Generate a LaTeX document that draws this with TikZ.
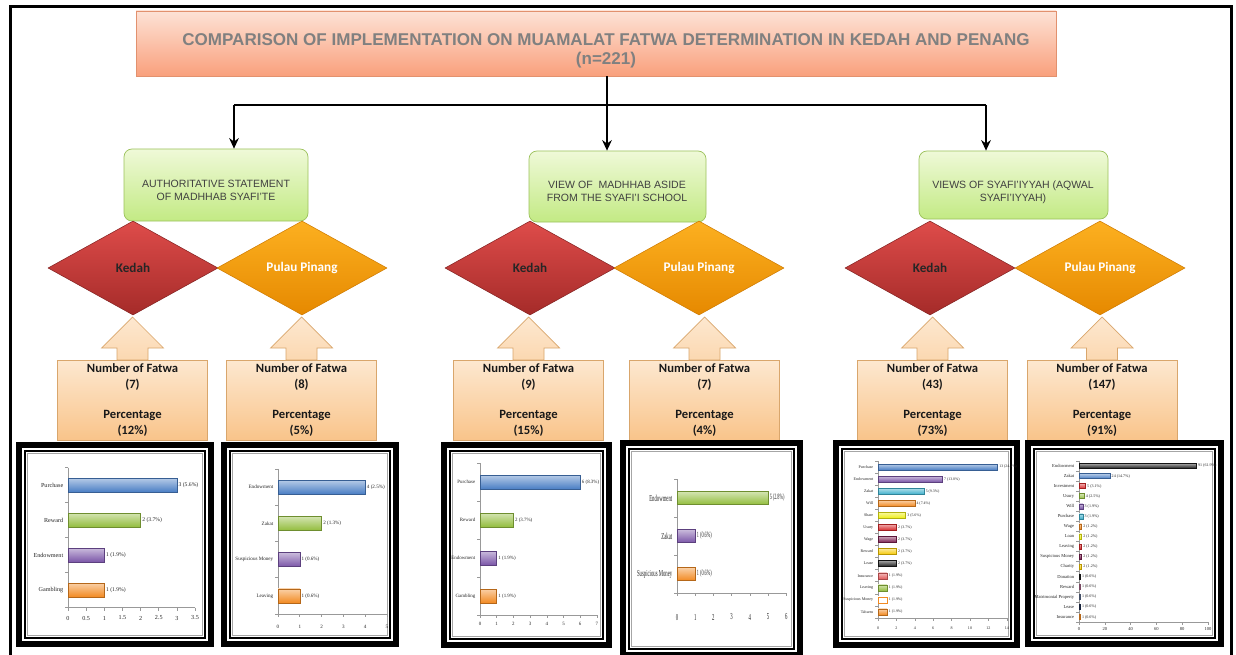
\documentclass[tikz,border=0pt]{standalone}
\usepackage{fontspec}
\usepackage{graphicx}
\setmainfont{Liberation Sans}
\newfontfamily\calibfont{Carlito}
\newfontfamily\chartfont{Liberation Serif}
\usetikzlibrary{shapes.geometric,arrows.meta,positioning}

\newdimen\px
\px=0.02cm

\definecolor{titletop}{HTML}{FDE2D6}
\definecolor{titlebot}{HTML}{F9A07C}
\definecolor{titleline}{HTML}{E2916E}
\definecolor{titleink}{HTML}{808080}
\definecolor{greentop}{HTML}{EFF9D8}
\definecolor{greenbot}{HTML}{C3EA84}
\definecolor{greenline}{HTML}{9CC25C}
\definecolor{kedtop}{HTML}{DE4C4A}
\definecolor{kedbot}{HTML}{A52B29}
\definecolor{pentop}{HTML}{FCB020}
\definecolor{penbot}{HTML}{E68900}
\definecolor{peachtop}{HTML}{FDE8D0}
\definecolor{peachbot}{HTML}{F9C48A}
\definecolor{peachline}{HTML}{D9A66C}
\definecolor{barblue}{HTML}{4A7EC4}
\definecolor{bargreen}{HTML}{93BD3E}
\definecolor{barpurple}{HTML}{7B56A8}
\definecolor{barorange}{HTML}{F28A22}
\definecolor{barcyan}{HTML}{3FB0CC}
\definecolor{baryellow}{HTML}{EEEE10}
\definecolor{barred}{HTML}{D8282A}
\definecolor{barmaroon}{HTML}{7A1D4E}
\definecolor{bargold}{HTML}{F5C800}
\definecolor{barblack}{HTML}{1A1A1A}
\definecolor{barnavy}{HTML}{1F2D4D}
\definecolor{barslate}{HTML}{5A6A8A}

\tikzset{
  titlebox/.style={draw=titleline, top color=titletop, bottom color=titlebot,
    minimum width=920\px, minimum height=65\px, inner sep=0pt},
  titletext/.style={align=center, text=titleink,
    font=\bfseries\fontsize{9.7}{10.8}\selectfont},
  viewbox/.style={draw=greenline, top color=greentop, bottom color=greenbot,
    rounded corners=8\px, inner sep=0pt},
  viewtext/.style={align=center, text=black!75, font=\fontsize{6}{7.4}\selectfont},
  kedah/.style={diamond, draw=kedbot!80!black, line width=0.3pt, top color=kedtop,
    bottom color=kedbot, minimum width=170\px, minimum height=94\px, inner sep=0pt,
    font=\calibfont\bfseries\fontsize{7.5}{9}\selectfont, text=black!85},
  penang/.style={diamond, draw=penbot!90!black, line width=0.3pt, top color=pentop,
    bottom color=penbot, minimum width=170\px, minimum height=94\px, inner sep=0pt,
    font=\calibfont\bfseries\fontsize{7.5}{9}\selectfont, text=white},
  countbox/.style={draw=peachline, top color=peachtop, bottom color=peachbot,
    minimum width=150\px, minimum height=80\px, inner sep=0pt, align=center,
    font=\calibfont\bfseries\fontsize{7.2}{9}\selectfont, text=black!90},
  upblock/.style={draw=peachline, top color=peachtop, bottom color=peachtop!55!peachbot},
  trunk/.style={line width=1.1pt},
  link/.style={line width=1.1pt, -{Stealth[length=6pt,width=5.5pt]}},
  axisline/.style={draw=black!40, line width=0.35pt},
  catlabel/.style={anchor=east, inner sep=0.8pt, font=\chartfont\catsize, text=black!85},
  vallabel/.style={anchor=west, inner sep=0.8pt, font=\chartfont\valsize, text=black!85},
  ticklabel/.style={inner sep=0pt, font=\chartfont\catsize, text=black!85},
}

% one bar: row, value, colour, category, value text
\newcommand{\fatwabar}[5]{%
  \pgfmathsetmacro\yy{\ytop+#1*\dy}%
  \shade[top color=#3!40!white, bottom color=#3, draw=#3!75!black, line width=0.25pt]
    (\xo,\yy-\bh/2) rectangle (\xo+#2*\un,\yy+\bh/2);
  \node[catlabel] (\cid-cat-#1) at (\xo-3,\yy) {\squeeze{#4}};
  \node[vallabel] (\cid-val-#1) at (\xo+#2*\un,\yy) {\squeeze{#5}};
}
% axes: rows, max, ticks, label y
\newcommand{\fatwaaxis}[4]{%
  \pgfmathsetmacro\ya{\ytop-\dy/2}%
  \pgfmathsetmacro\yb{\ytop+(#1-0.5)*\dy}%
  \draw[axisline] (\xo,\ya) -- (\xo,\yb) -- (\xo+#2*\un,\yb);
  \foreach \k in {0,...,#1} \draw[axisline] (\xo,\ya+\k*\dy) -- ++(-3,0);
  \foreach \t [count=\i] in {#3} {
    \draw[axisline] (\xo+\t*\un,\yb) -- ++(0,3);
    \node[ticklabel] (\cid-tick-\i) at (\xo+\t*\un,#4) {\squeeze{\t}};
  }
}
% black double frame round a chart
\newcommand{\chartframe}[4]{%
  \fill[black] (#1,#2) rectangle (#3,#4);
  \fill[white] (#1+6,#2+6) rectangle (#3-6,#4-6);
  \draw[black, line width=1.8\px] (#1+9,#2+9) rectangle (#3-9,#4-9);
  \draw[black!35, line width=1.4\px] (#1+11.5,#2+11.5) rectangle (#3-11.5,#4-11.5);
  \fill[white] (#1+12.5,#2+12.5) rectangle (#3-12.5,#4-12.5);
}
\def\squeeze#1{#1}

\begin{document}
\begin{tikzpicture}[x=0.02cm, y=-0.02cm]
  \useasboundingbox (0,0) rectangle (1236,655);
  \fill[white] (0,0) rectangle (1236,655);
  \draw[line width=3\px] (10,7) rectangle (1231,700);

  % title
  \node[titlebox] (title) at (596,43.5) {};
  \node[titletext] (titlelabel) at (606,51) {COMPARISON OF IMPLEMENTATION ON MUAMALAT FATWA DETERMINATION IN KEDAH AND PENANG\\(n=221)};

  % views
  \node[viewbox, minimum width=184\px, minimum height=72\px] (view1) at (216,185) {};
  \node[viewtext] (view1label) at (216,190) {AUTHORITATIVE STATEMENT\\OF MADHHAB SYAFI'TE};
  \node[viewbox, minimum width=177\px, minimum height=71\px] (view2) at (617.5,186.5) {};
  \node[viewtext] (view2label) at (617,191.5) {VIEW OF\ \ MADHHAB ASIDE\\FROM THE SYAFI'I SCHOOL};
  \node[viewbox, minimum width=189\px, minimum height=68\px] (view3) at (1013.5,185) {};
  \node[viewtext] (view3label) at (1013,192.5) {VIEWS OF SYAFI'IYYAH (AQWAL\\SYAFI'IYYAH)};

  % connectors
  \coordinate (hub) at (607,105);
  \coordinate (leftend) at (234,105);
  \coordinate (rightend) at (986,105);
  \draw[trunk] (title.south -| hub) -- (hub);
  \draw[trunk] (leftend) -- (rightend);
  \draw[link] (leftend) -- (leftend |- view1.north);
  \draw[link] (hub) -- (hub |- view2.north);
  \draw[link] (rightend) -- (rightend |- view3.north);

  % states
  \node[kedah] (ked1) at (133,268) {Kedah};
  \node[penang] (pen1) at (302,268) {Pulau Pinang};
  \node[kedah] (ked2) at (530,268) {Kedah};
  \node[penang] (pen2) at (699,268) {Pulau Pinang};
  \node[kedah] (ked3) at (930,268) {Kedah};
  \node[penang] (pen3) at (1100,268) {Pulau Pinang};

  % counts
  \foreach \n/\x/\num/\pct in {cnt1/132.5/7/12, cnt2/301.5/8/5, cnt3/528.5/9/15,
      cnt4/704.5/7/4, cnt5/932.5/43/73, cnt6/1102/147/91} {
    \path[upblock] (\x-15.5,360) -- (\x-15.5,348) -- (\x-31,348) -- (\x,317)
      -- (\x+31,348) -- (\x+15.5,348) -- (\x+15.5,360) -- cycle;
    \node[countbox] (\n) at (\x,400) {Number of Fatwa\\(\num)\\[8pt]Percentage\\(\pct\%)};
  }

  % chart 1
  \chartframe{16}{442}{214}{647}
  \def\cid{ch1}\def\xo{68}\def\un{36.3}\def\ytop{485}\def\dy{35}\def\bh{14}
  \def\catsize{\fontsize{3.5}{4}\selectfont}\def\valsize{\fontsize{3.2}{3.5}\selectfont}
  \fatwaaxis{4}{3.5}{0,0.5,1,1.5,2,2.5,3,3.5}{618}
  \fatwabar{0}{3}{barblue}{Purchase}{3 (5.6\%)}
  \fatwabar{1}{2}{bargreen}{Reward}{2 (3.7\%)}
  \fatwabar{2}{1}{barpurple}{Endowment}{1 (1.9\%)}
  \fatwabar{3}{1}{barorange}{Gambling}{1 (1.9\%)}

  % chart 2
  \chartframe{221}{442}{399}{647}
  \def\cid{ch2}\def\xo{278}\def\un{21.8}\def\ytop{487}\def\dy{36.3}\def\bh{14}
  \def\catsize{\fontsize{2.9}{3.3}\selectfont}\def\valsize{\fontsize{2.9}{3.3}\selectfont}
  \fatwaaxis{4}{5}{0,1,2,3,4,5}{627}
  \fatwabar{0}{4}{barblue}{Endowment}{4 (2.5\%)}
  \fatwabar{1}{2}{bargreen}{Zakat}{2 (1.3\%)}
  \fatwabar{2}{1}{barpurple}{Suspicious Money}{1 (0.6\%)}
  \fatwabar{3}{1}{barorange}{Leaving}{1 (0.6\%)}

  % chart 3
  \chartframe{441}{442}{612}{648}
  \def\cid{ch3}\def\xo{480}\def\un{16.7}\def\ytop{482}\def\dy{38}\def\bh{14}
  \def\catsize{\fontsize{2.8}{3.2}\selectfont}\def\valsize{\fontsize{2.8}{3.2}\selectfont}
  \fatwaaxis{4}{7}{0,1,2,3,4,5,6,7}{624}
  \fatwabar{0}{6}{barblue}{Purchase}{6 (8.3\%)}
  \fatwabar{1}{2}{bargreen}{Reward}{2 (3.7\%)}
  \fatwabar{2}{1}{barpurple}{Endowment}{1 (1.9\%)}
  \fatwabar{3}{1}{barorange}{Gambling}{1 (1.9\%)}

  % chart 4
  \chartframe{620}{440}{803}{658}
  \def\cid{ch4}\def\xo{677}\def\un{18.2}\def\ytop{498}\def\dy{38}\def\bh{13}
  \def\catsize{\fontsize{5.2}{5.5}\selectfont}\def\valsize{\fontsize{4.6}{5}\selectfont}
  \def\squeeze#1{\scalebox{0.52}[1]{#1}}
  \fatwaaxis{3}{6}{0,1,2,3,4,5,6}{617}
  \fatwabar{0}{5}{bargreen}{Endowment}{5 (2.8\%)}
  \fatwabar{1}{1}{barpurple}{Zakat}{1 (0.6\%)}
  \fatwabar{2}{1}{barorange}{Suspicious Money}{1 (0.6\%)}
  \def\squeeze#1{#1}

  % chart 5
  \chartframe{833}{440}{1020}{648}
  \def\cid{ch5}\def\xo{878}\def\un{9.2}\def\ytop{467}\def\dy{12.08}\def\bh{6}
  \def\catsize{\fontsize{2.3}{2.6}\selectfont}\def\valsize{\fontsize{2.2}{2.5}\selectfont}
  \fatwaaxis{13}{14}{0,2,4,6,8,10,12,14}{628}
  \fatwabar{0}{13}{barblue}{Purchase}{13 (24.1\%)}
  \fatwabar{1}{7}{barpurple}{Endowment}{7 (13.0\%)}
  \fatwabar{2}{5}{barcyan}{Zakat}{5 (9.3\%)}
  \fatwabar{3}{4}{barorange}{Will}{4 (7.4\%)}
  \fatwabar{4}{3}{baryellow}{Share}{3 (5.6\%)}
  \fatwabar{5}{2}{barred}{Usury}{2 (3.7\%)}
  \fatwabar{6}{2}{barmaroon}{Wage}{2 (3.7\%)}
  \fatwabar{7}{2}{bargold}{Reward}{2 (3.7\%)}
  \fatwabar{8}{2}{barblack}{Lease}{2 (3.7\%)}
  \fatwabar{9}{1}{barred!75!white}{Insurance}{1 (1.9\%)}
  \fatwabar{10}{1}{bargreen}{Leaving}{1 (1.9\%)}
  \fatwabar{11}{1}{white}{Suspicious Money}{1 (1.9\%)}
  \draw[barorange, line width=0.4pt] (878,467+11*12.08-3) rectangle (878+9.2,467+11*12.08+3);
  \fatwabar{12}{1}{barorange}{Tabarru}{1 (1.9\%)}

  % chart 6
  \chartframe{1025}{440}{1224}{647}
  \def\cid{ch6}\def\xo{1079}\def\un{1.29}\def\ytop{466}\def\dy{10.07}\def\bh{5}
  \def\catsize{\fontsize{2.6}{2.9}\selectfont}\def\valsize{\fontsize{2.3}{2.6}\selectfont}
  \fatwaaxis{16}{100}{0,20,40,60,80,100}{629}
  \fatwabar{0}{91}{barblack}{Endowment}{91 (61.9\%)}
  \fatwabar{1}{24}{barblue}{Zakat}{24 (14.7\%)}
  \fatwabar{2}{5}{barred}{Investment}{5 (3.1\%)}
  \fatwabar{3}{4}{bargreen}{Usury}{4 (2.5\%)}
  \fatwabar{4}{3}{barpurple}{Will}{3 (1.9\%)}
  \fatwabar{5}{3}{barcyan}{Purchase}{3 (1.9\%)}
  \fatwabar{6}{2}{barorange}{Wage}{2 (1.2\%)}
  \fatwabar{7}{2}{baryellow}{Loan}{2 (1.2\%)}
  \fatwabar{8}{2}{barred}{Leaving}{2 (1.2\%)}
  \fatwabar{9}{2}{barmaroon}{Suspicious Money}{2 (1.2\%)}
  \fatwabar{10}{2}{bargold}{Charity}{2 (1.2\%)}
  \fatwabar{11}{1}{barblack}{Donation}{1 (0.6\%)}
  \fatwabar{12}{1}{barmaroon!70!white}{Reward}{1 (0.6\%)}
  \fatwabar{13}{1}{barslate}{Matrimonial Property}{1 (0.6\%)}
  \fatwabar{14}{1}{barnavy}{Lease}{1 (0.6\%)}
  \fatwabar{15}{1}{barorange}{Insurance}{1 (0.6\%)}
\end{tikzpicture}
\end{document}
